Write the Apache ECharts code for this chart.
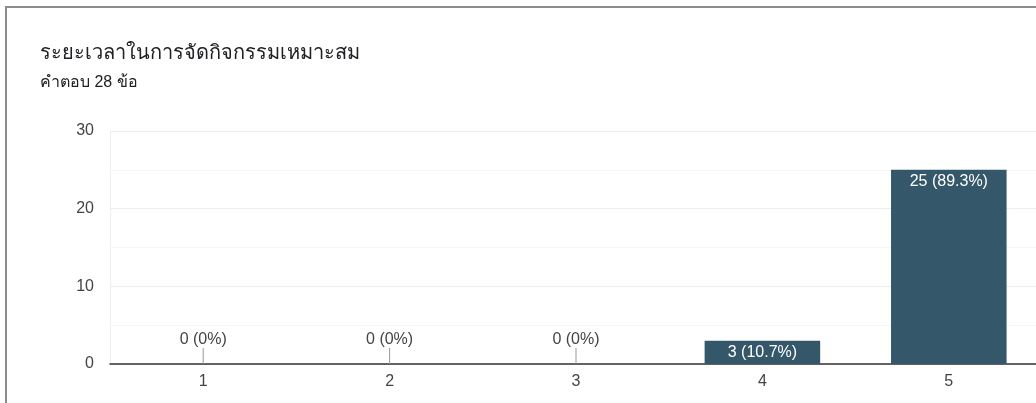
<!DOCTYPE html>
<html>
<head>
<meta charset="utf-8">
<script src="https://cdn.jsdelivr.net/npm/echarts@6/dist/echarts.min.js"></script>
<style>
html,body{margin:0;padding:0;background:#fff;overflow:hidden;width:1036px;height:403px;}
#frame{position:absolute;left:5px;top:6px;width:1040px;height:400px;border-left:2px solid #8c8c8c;border-top:2px solid #8c8c8c;}
#chart{position:absolute;left:0;top:0;width:1042px;height:403px;}
</style>
</head>
<body>
<div id="frame"></div>
<div id="chart"></div>
<script>
const titleText = 'ระยะเวลาในการจัดกิจกรรมเหมาะสม';
const subText = 'คำตอบ 28 ข้อ';
const categories = ['1', '2', '3', '4', '5'];
const counts = [0, 0, 0, 3, 25];
const labels = ['0 (0%)', '0 (0%)', '0 (0%)', '3 (10.7%)', '25 (89.3%)'];
const yTicks = [0, 10, 20, 30];

const font = "Arial, 'Liberation Sans', Roboto, sans-serif";
const chart = echarts.init(document.getElementById('chart'));
chart.setOption({
  animation: false,
  textStyle: { fontFamily: font },
  title: {
    text: titleText,
    subtext: subText,
    left: 35,
    top: 38,
    itemGap: 12,
    textStyle: { fontSize: 20, fontWeight: 500, color: '#202124', fontFamily: font },
    subtextStyle: { fontSize: 16, color: '#202124', fontFamily: font }
  },
  grid: { left: 110, right: 0, top: 131, bottom: 39 },
  xAxis: {
    type: 'category',
    data: categories,
    axisLine: { show: true, lineStyle: { color: '#333', width: 1.5 } },
    axisTick: { show: false },
    axisLabel: { color: '#444', fontSize: 16, margin: 10 },
    splitLine: { show: false }
  },
  yAxis: {
    type: 'value',
    min: yTicks[0],
    max: yTicks[yTicks.length - 1],
    interval: 10,
    axisLine: { show: true, lineStyle: { color: '#eeeeee', width: 1 } },
    axisTick: { show: false },
    axisLabel: { color: '#444', fontSize: 16, margin: 16 },
    splitLine: { lineStyle: { color: '#ececec', width: 1 } },
    minorTick: { show: false, splitNumber: 2 },
    minorSplitLine: { show: true, lineStyle: { color: '#f5f5f5', width: 1 } }
  },
  series: [
    {
      type: 'bar',
      data: counts,
      barCategoryGap: '38%',
      itemStyle: { color: '#34586a' },
      label: {
        show: true,
        position: 'insideTop',
        distance: 4,
        color: '#fff',
        fontSize: 16,
        formatter: p => p.value > 0 ? labels[p.dataIndex] : ''
      }
    },
    {
      type: 'custom',
      data: counts.map((v, i) => [i, v]),
      z: 5,
      renderItem: function (params, api) {
        const v = api.value(1);
        if (v !== 0) return null;
        const pt = api.coord([api.value(0), 0]);
        return {
          type: 'group',
          children: [
            { type: 'line', shape: { x1: pt[0], y1: pt[1] - 16, x2: pt[0], y2: pt[1] }, style: { stroke: '#999', lineWidth: 1 } },
            { type: 'text', style: { text: labels[params.dataIndex], x: pt[0], y: pt[1] - 16, align: 'center', verticalAlign: 'bottom', fill: '#444', font: '16px ' + font } }
          ]
        };
      }
    }
  ]
});
</script>
</body>
</html>
